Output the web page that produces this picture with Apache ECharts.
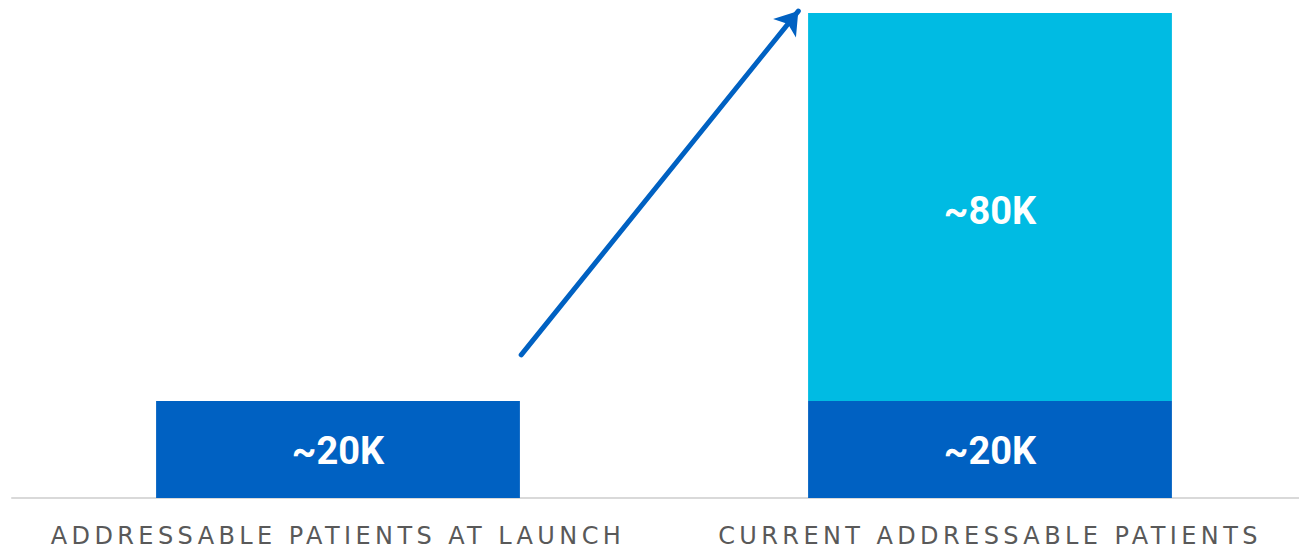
<!DOCTYPE html>
<html>
<head>
<meta charset="utf-8">
<style>
	html, body { margin: 0; padding: 0; background: #fff; }
	#chart { width: 1299px; height: 549px; }
	/* spaced-out axis captions, like the slide font */
	#chart text { letter-spacing: 4.4px; }
	#chart text[fill="#fff"], #chart text[fill="#ffffff"], #chart text[fill="rgb(255,255,255)"] { letter-spacing: 0; }
</style>
<script src="https://cdn.jsdelivr.net/npm/echarts@6/dist/echarts.min.js"></script>
</head>
<body>
<div id="chart"></div>
<script>
const categories = ['ADDRESSABLE PATIENTS AT LAUNCH', 'CURRENT ADDRESSABLE PATIENTS']
const baseValues = [20, 20]
const addedValues = [null, 80]
const baseLabels = ['~20K', '~20K']
const addedLabels = ['', '~80K']
// arrow from launch bar to current bar (x in category units, y in K patients)
const arrowFrom = [0.281, 29.5]
const arrowTo = [0.706, 100.4]

const DARK = '#0061C2'
const LIGHT = '#00BBE3'

const chart = echarts.init(document.getElementById('chart'), null, { renderer: 'svg' })

const barLabel = (labels, offsetY) => ({
	show: true,
	position: 'inside',
	offset: [0, offsetY],
	color: '#fff',
	fontFamily: 'Roboto',
	fontWeight: 'bold',
	fontSize: 38,
	formatter: (p) => labels[p.dataIndex]
})

const option = {
	animation: false,
	grid: { left: 12, right: -17, top: 13, bottom: 51, outerBoundsMode: 'none', containLabel: false },
	xAxis: [
		{
			type: 'category',
			data: categories,
			axisLine: { show: true, lineStyle: { color: '#d9d9d9', width: 2 } },
			axisTick: { show: false },
			axisLabel: {
				color: '#595959',
				fontFamily: 'DejaVu Sans',
				fontSize: 24,
				margin: 26,
				interval: 0
			}
		},
		{ type: 'value', show: false, min: -0.5, max: 1.5 }
	],
	yAxis: { type: 'value', min: 0, max: 100, show: false },
	series: [
		{
			type: 'bar',
			stack: 'patients',
			data: baseValues,
			barWidth: '55.8%',
			itemStyle: { color: DARK },
			label: barLabel(baseLabels, 1)
		},
		{
			type: 'bar',
			stack: 'patients',
			data: addedValues,
			barWidth: '55.8%',
			itemStyle: { color: LIGHT },
			label: barLabel(addedLabels, 4)
		},
		{
			type: 'lines',
			coordinateSystem: 'cartesian2d',
			xAxisIndex: 1,
			yAxisIndex: 0,
			clip: false,
			symbol: ['none', 'arrow'],
			symbolSize: 22,
			lineStyle: { color: DARK, width: 5, opacity: 1, cap: 'round' },
			data: [{ coords: [arrowFrom, arrowTo] }]
		}
	]
}

chart.setOption(option)
</script>
</body>
</html>
